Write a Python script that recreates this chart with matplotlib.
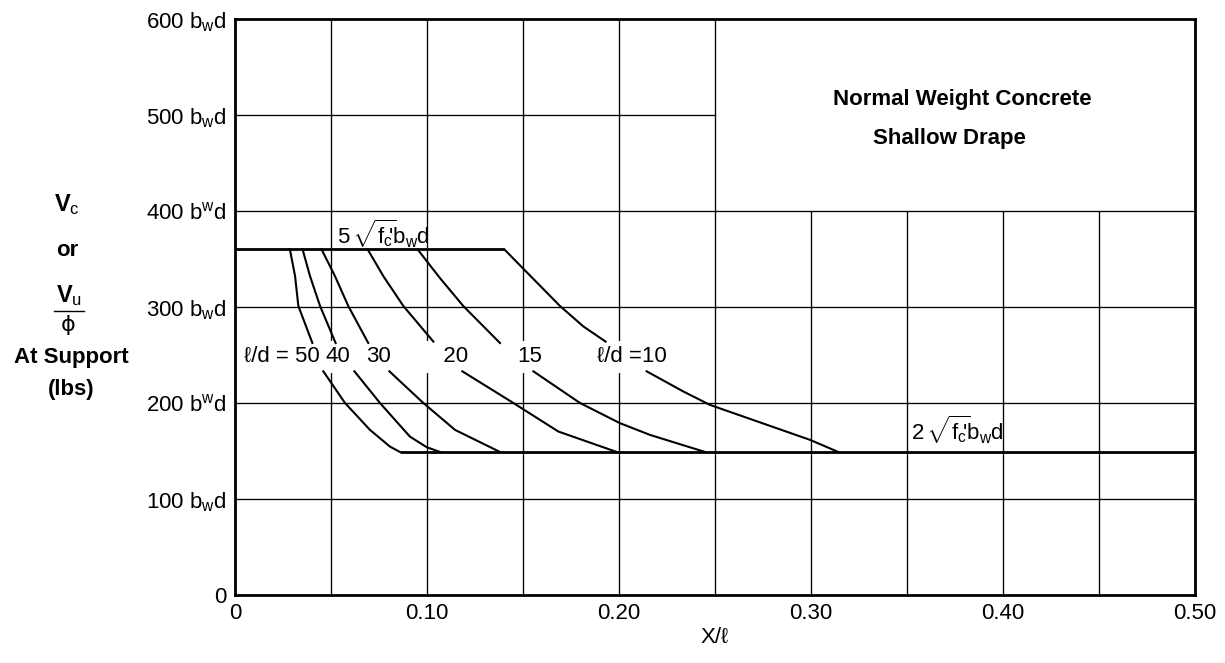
import numpy as np
import matplotlib
matplotlib.use("Agg")
import matplotlib.pyplot as plt
from matplotlib.lines import Line2D

plt.rcParams['font.family'] = ['Liberation Sans', 'DejaVu Sans']
plt.rcParams['mathtext.fontset'] = 'custom'
plt.rcParams['mathtext.rm'] = 'Liberation Sans'
plt.rcParams['mathtext.it'] = 'Liberation Sans'
plt.rcParams['mathtext.bf'] = 'Liberation Sans:bold'

nan = np.nan

# ---- data ----
upper_limit = 360      # 5 sqrt(f'c) bw d
lower_limit = 149      # 2 sqrt(f'c) bw d
upper_end_x = 0.1403   # end of top plateau
lower_start_x = 0.0859  # start of bottom plateau

ld50_x = [0.0286, 0.0313, 0.0330, 0.0403, nan, 0.0460, 0.0573, 0.0703, 0.0807, 0.0859]
ld50_y = [360, 332, 301, 262.5, nan, 233, 200, 172, 154.6, 149]
ld40_x = [0.0352, 0.0391, 0.0443, 0.0524, nan, 0.0622, 0.0755, 0.0911, 0.0998, 0.1068]
ld40_y = [360, 332, 301, 262.5, nan, 233, 200, 165, 154, 149]
ld30_x = [0.0451, 0.0521, 0.0590, 0.0694, nan, 0.0804, 0.0981, 0.1146, 0.1380]
ld30_y = [360, 332, 301, 262.5, nan, 233, 200, 172, 149]
ld20_x = [0.0691, 0.0773, 0.0877, 0.1033, nan, 0.1184, 0.1450, 0.1684, 0.1988]
ld20_y = [360, 332, 301, 264, nan, 233, 200, 170.3, 149]
ld15_x = [0.0951, 0.1068, 0.1189, 0.1380, nan, 0.1554, 0.1797, 0.2005, 0.2161, 0.2448]
ld15_y = [360, 330, 301, 262.5, nan, 233, 200, 179, 166.8, 149]
ld10_x = [0.1403, 0.1498, 0.1693, 0.1814, 0.1930, nan, 0.2144, 0.2335, 0.2474, 0.2995, 0.3142]
ld10_y = [360, 340.6, 301, 279.8, 264, nan, 233, 212, 198, 161.6, 149]

curve_labels = ["\u2113/d = 50", "40", "30", "   20", "15", "\u2113/d =10"]
curve_label_x = [0.0047, 0.0469, 0.0682, 0.0987, 0.1469, 0.1885]
curve_label_y = 248

x_ticks = [0, 0.10, 0.20, 0.30, 0.40, 0.50]
x_tick_labels = ["0", "0.10", "0.20", "0.30", "0.40", "0.50"]
y_ticks = [0, 100, 200, 300, 400, 500, 600]
y_tick_labels = ["0", r"100 b$_w$d", r"200 b$^w$d", r"300 b$_w$d",
                 r"400 b$^w$d", r"500 b$_w$d", r"600 b$_w$d"]
grid_x = [0.05, 0.10, 0.15, 0.20, 0.25, 0.30, 0.35, 0.40, 0.45]
grid_y = [100, 200, 300, 400, 500]
box_x, box_y = 0.25, 400   # blank title box in the upper right

FS = 16

fig = plt.figure(figsize=(12.25, 6.63), dpi=100)
ax = fig.add_axes([235/1225, 1-595/663, 960/1225, 576/663])
ax.set_xlim(0, 0.5)
ax.set_ylim(0, 600)

# grid (omitted inside the title box)
for gx in grid_x:
    top = 600 if gx <= box_x else box_y
    ax.plot([gx, gx], [0, top], color='black', lw=0.95, zorder=1)
for gy in grid_y:
    right = 0.5 if gy <= box_y else box_x
    ax.plot([0, right], [gy, gy], color='black', lw=0.95, zorder=1)

# plateaus
ax.plot([0, upper_end_x], [upper_limit, upper_limit], color='black', lw=2.0, zorder=3,
        solid_capstyle='butt')
ax.plot([lower_start_x, 0.5], [lower_limit, lower_limit], color='black', lw=2.0, zorder=3,
        solid_capstyle='butt')

for xs, ys in [(ld50_x, ld50_y), (ld40_x, ld40_y), (ld30_x, ld30_y),
               (ld20_x, ld20_y), (ld15_x, ld15_y), (ld10_x, ld10_y)]:
    ax.plot(xs, ys, color='black', lw=1.5, zorder=3)

for lab, lx in zip(curve_labels, curve_label_x):
    ax.text(lx, curve_label_y, lab, fontsize=FS, ha='left', va='center', zorder=2,
            bbox=dict(facecolor='white', edgecolor='none', pad=4))

ax.text(0.053, 376, r"5$\,\sqrt{f_c}\!\!$'b$_w$d", fontsize=FS, ha='left', va='center', zorder=4)
ax.text(0.352, 172, r"2$\,\sqrt{f_c}\!\!$'b$_w$d", fontsize=FS, ha='left', va='center', zorder=4)

ax.text(0.379, 516, "Normal Weight Concrete", fontsize=FS, fontweight='bold',
        ha='center', va='center')
ax.text(0.372, 476, "Shallow Drape", fontsize=FS, fontweight='bold',
        ha='center', va='center')

ax.set_xticks(x_ticks)
ax.set_xticklabels(x_tick_labels, fontsize=FS)
ax.set_yticks(y_ticks)
ax.set_yticklabels(y_tick_labels, fontsize=FS)
ax.tick_params(axis='y', length=0, pad=6)
ax.tick_params(axis='x', length=0, pad=6)
for s in ax.spines.values():
    s.set_linewidth(2.0)
    s.set_zorder(5)

ax.set_xlabel("X/\u2113", fontsize=FS, labelpad=2)

# left axis title block
def fx(px):
    return px / 1225
def fy(py):
    return 1 - py / 663

fig.text(fx(67), fy(205), r"$\mathbf{V}_\mathregular{c}$", fontsize=FS+1, ha='center', va='center')
fig.text(fx(67), fy(251), "or", fontsize=FS, fontweight='bold', ha='center', va='center')
fig.text(fx(69), fy(296), r"$\mathbf{V}_\mathregular{u}$", fontsize=FS+1, ha='center', va='center')
fig.add_artist(Line2D([fx(54), fx(84)], [fy(311), fy(311)], color='black', lw=1.0))
fig.text(fx(68), fy(325), "\u03d5", fontsize=FS, ha='center', va='center',
         family=['DejaVu Sans'])
fig.text(fx(71), fy(357), "At Support", fontsize=FS, fontweight='bold', ha='center', va='center')
fig.text(fx(71), fy(389), "(lbs)", fontsize=FS, fontweight='bold', ha='center', va='center')

fig.savefig("out.png", dpi=100, facecolor='white')
